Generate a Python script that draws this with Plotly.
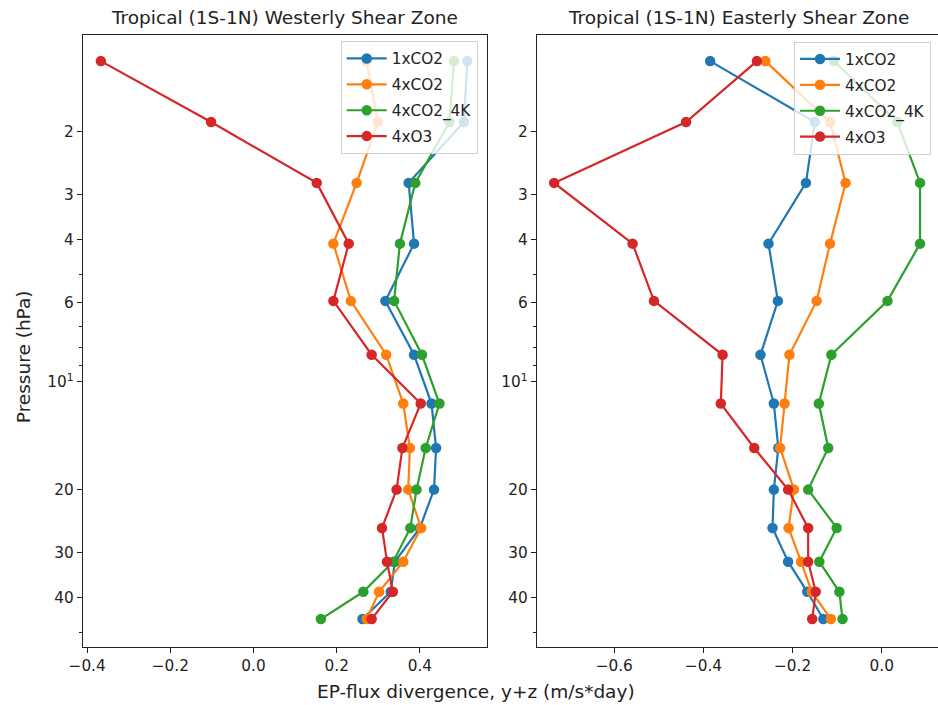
import plotly.graph_objects as go

levels = [1.27, 1.88, 2.78, 4.11, 5.94, 8.40, 11.5, 15.3, 20.0, 25.6, 31.8, 38.6, 46.0]

series_names = ["1xCO2", "4xCO2", "4xCO2_4K", "4xO3"]
colors = ["#1f77b4", "#ff7f0e", "#2ca02c", "#d62728"]

# Westerly shear zone
w_1xco2 = [0.514, 0.506, 0.373, 0.386, 0.317, 0.386, 0.428, 0.439, 0.434, 0.400, 0.340, 0.330, 0.262]
w_4xco2 = [0.272, 0.299, 0.248, 0.192, 0.234, 0.319, 0.360, 0.376, 0.372, 0.403, 0.360, 0.302, 0.272]
w_4k = [0.482, 0.471, 0.389, 0.352, 0.338, 0.405, 0.447, 0.414, 0.392, 0.377, 0.336, 0.264, 0.162]
w_o3 = [-0.367, -0.102, 0.152, 0.229, 0.192, 0.284, 0.402, 0.358, 0.344, 0.309, 0.321, 0.335, 0.284]

# Easterly shear zone
e_1xco2 = [-0.385, -0.150, -0.170, -0.254, -0.233, -0.272, -0.242, -0.232, -0.242, -0.245, -0.210, -0.167, -0.131]
e_4xco2 = [-0.261, -0.116, -0.081, -0.116, -0.146, -0.207, -0.218, -0.228, -0.197, -0.209, -0.181, -0.157, -0.114]
e_4k = [-0.107, 0.035, 0.086, 0.086, 0.013, -0.113, -0.141, -0.120, -0.165, -0.101, -0.140, -0.095, -0.088]
e_o3 = [-0.280, -0.439, -0.735, -0.559, -0.511, -0.357, -0.361, -0.286, -0.210, -0.165, -0.165, -0.148, -0.156]

titles = ["Tropical (1S-1N) Westerly Shear Zone", "Tropical (1S-1N) Easterly Shear Zone"]
ytickvals = [2, 3, 4, 6, 10, 20, 30, 40]
yticktext = ["2", "3", "4", "6", "10<sup>1</sup>", "20", "30", "40"]
yminor = [5, 7, 8, 9, 50]

W, H = 938, 705
FONT = "DejaVu Sans, Liberation Sans, sans-serif"

fig = go.Figure()

panels = [
    ([w_1xco2, w_4xco2, w_4k, w_o3], "x", "y", "legend"),
    ([e_1xco2, e_4xco2, e_4k, e_o3], "x2", "y2", "legend2"),
]
for data, xa, ya, lg in panels:
    for name, col, vals in zip(series_names, colors, data):
        fig.add_trace(go.Scatter(
            x=vals, y=levels, name=name, mode="lines+markers",
            line=dict(color=col, width=2.2),
            marker=dict(color=col, size=10.5),
            xaxis=xa, yaxis=ya, legend=lg, legendgroup=name + lg,
        ))

def px_x(p):
    return p / W

def px_y(p):
    return 1 - p / H

ydom = [px_y(646.7), px_y(34.7)]
common_axis = dict(
    showline=True, linecolor="#222", linewidth=1, mirror=True,
    ticks="outside", ticklen=5, tickwidth=1, tickcolor="#222",
    showgrid=False, zeroline=False, automargin=False,
    tickfont=dict(family=FONT, size=15.3, color="#222"),
)
yaxis_cfg = dict(
    common_axis, type="log", range=[1.740, 0.030],
    tickmode="array", tickvals=ytickvals, ticktext=yticktext,
    minor=dict(tickvals=yminor, ticklen=3, tickwidth=1, tickcolor="#222", ticks="outside", showgrid=False),
    domain=ydom,
)

legend_common = dict(
    bgcolor="rgba(255,255,255,0.8)", bordercolor="#d0d0d0", borderwidth=1,
    font=dict(family=FONT, size=15.3, color="#222"),
    xanchor="right", yanchor="top", tracegroupgap=3, itemwidth=40,
)

fig.update_layout(
    width=W, height=H,
    margin=dict(l=0, r=0, t=0, b=0, autoexpand=False),
    paper_bgcolor="white", plot_bgcolor="white",
    showlegend=True,
    xaxis=dict(common_axis, domain=[px_x(82.7), px_x(486.5)], range=[-0.4107, 0.5602],
               tickmode="array", tickvals=[-0.4, -0.2, 0.0, 0.2, 0.4], tickformat=".1f", anchor="y"),
    yaxis=dict(yaxis_cfg, anchor="x"),
    xaxis2=dict(common_axis, domain=[px_x(536.7), 1.0], range=[-0.7741, 0.1263],
                tickmode="array", tickvals=[-0.6, -0.4, -0.2, 0.0], tickformat=".1f", anchor="y2"),
    yaxis2=dict(yaxis_cfg, anchor="x2"),
    legend=dict(legend_common, x=px_x(477.7), y=px_y(41)),
    legend2=dict(legend_common, x=px_x(931), y=px_y(41.5)),
    font=dict(family=FONT, color="#222"),
)

annos = [
    dict(text=titles[0], x=px_x(284.4), y=px_y(17.5)),
    dict(text=titles[1], x=px_x(738), y=px_y(17.5)),
    dict(text="EP-flux divergence, y+z (m/s*day)", x=px_x(476), y=px_y(691)),
    dict(text="Pressure (hPa)", x=px_x(23.5), y=px_y(356.7), textangle=-90),
]
for a in annos:
    fig.add_annotation(xref="paper", yref="paper", showarrow=False,
                       xanchor="center", yanchor="middle",
                       font=dict(family=FONT, size=18.5, color="#222"), **a)

fig.write_html(
    "out.html",
    config={"displayModeBar": False},
    post_script="document.body.style.margin='0';document.body.style.overflow='hidden';",
)
